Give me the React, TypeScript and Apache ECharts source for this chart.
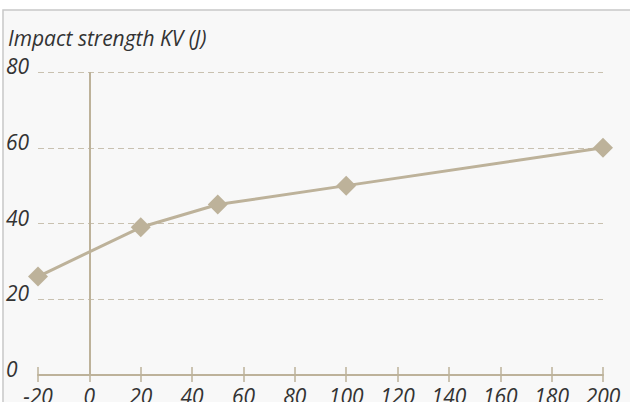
import React, { useEffect, useRef } from "react";
import * as echarts from "echarts";

const temperatures = [-20, 20, 50, 100, 200];
const impactValues = [26, 39, 45, 50, 60];
const yTitle = "Impact strength KV (J)";

const lineColor = "#bdb29a";
const textColor = "#333333";
const fontFamily = "'Open Sans', 'Noto Sans', sans-serif";

export default function App() {
  const ref = useRef<HTMLDivElement>(null);
  useEffect(() => {
    if (!ref.current) return;
    const chart = echarts.init(ref.current, null, { renderer: "svg" });
    const xBase = {
      type: "value",
      min: -20,
      max: 200,
      interval: 20,
      position: "bottom",
      splitLine: { show: false },
    };
    chart.setOption({
      animation: false,
      backgroundColor: "#ffffff",
      graphic: [
        {
          type: "rect",
          z: -10,
          shape: { x: 3, y: 10, width: 660, height: 420 },
          style: { fill: "#f8f8f8", stroke: "#c8c8c8", lineWidth: 1.5 },
        },
      ],
      title: {
        text: yTitle,
        left: 3,
        top: 22,
        textStyle: {
          fontSize: 21,
          fontStyle: "italic",
          fontWeight: "normal",
          color: textColor,
          fontFamily,
        },
      },
      grid: {
        left: 38,
        right: 27,
        top: 72,
        bottom: 27,
        containLabel: false,
        outerBoundsMode: "none",
      },
      xAxis: [
        {
          ...xBase,
          axisLine: { show: true, lineStyle: { color: lineColor, width: 2 } },
          axisTick: { show: true, length: 7, lineStyle: { color: lineColor, width: 1.5 } },
          axisLabel: {
            margin: 10,
            fontSize: 21,
            fontStyle: "italic",
            color: textColor,
            fontFamily,
          },
        },
        {
          ...xBase,
          axisLine: { show: false },
          axisTick: { show: true, inside: true, length: 8, lineStyle: { color: lineColor, width: 1.5 } },
          axisLabel: { show: false },
        },
      ],
      yAxis: {
        type: "value",
        min: 0,
        max: 80,
        interval: 20,
        axisLine: { show: false },
        axisTick: { show: false },
        axisLabel: {
          margin: 32,
          align: "left",
          verticalAlign: "bottom",
          lineHeight: 12,
          fontSize: 21,
          fontStyle: "italic",
          color: textColor,
          fontFamily,
        },
        splitLine: {
          show: true,
          lineStyle: { color: "#c9c1b0", width: 1, type: [6, 4] },
        },
      },
      series: [
        {
          type: "line",
          xAxisIndex: 0,
          data: temperatures.map((t, i) => [t, impactValues[i]]),
          symbol: "diamond",
          symbolSize: 20,
          lineStyle: { color: lineColor, width: 3 },
          itemStyle: { color: lineColor },
          markLine: {
            silent: true,
            symbol: ["none", "none"],
            label: { show: false },
            lineStyle: { color: lineColor, width: 2, type: "solid" },
            data: [{ xAxis: 0 }],
          },
        },
      ],
    });
    return () => chart.dispose();
  }, []);
  return (
    <div
      ref={ref}
      style={{ position: "absolute", left: 0, top: 0, width: 630, height: 402 }}
    />
  );
}
